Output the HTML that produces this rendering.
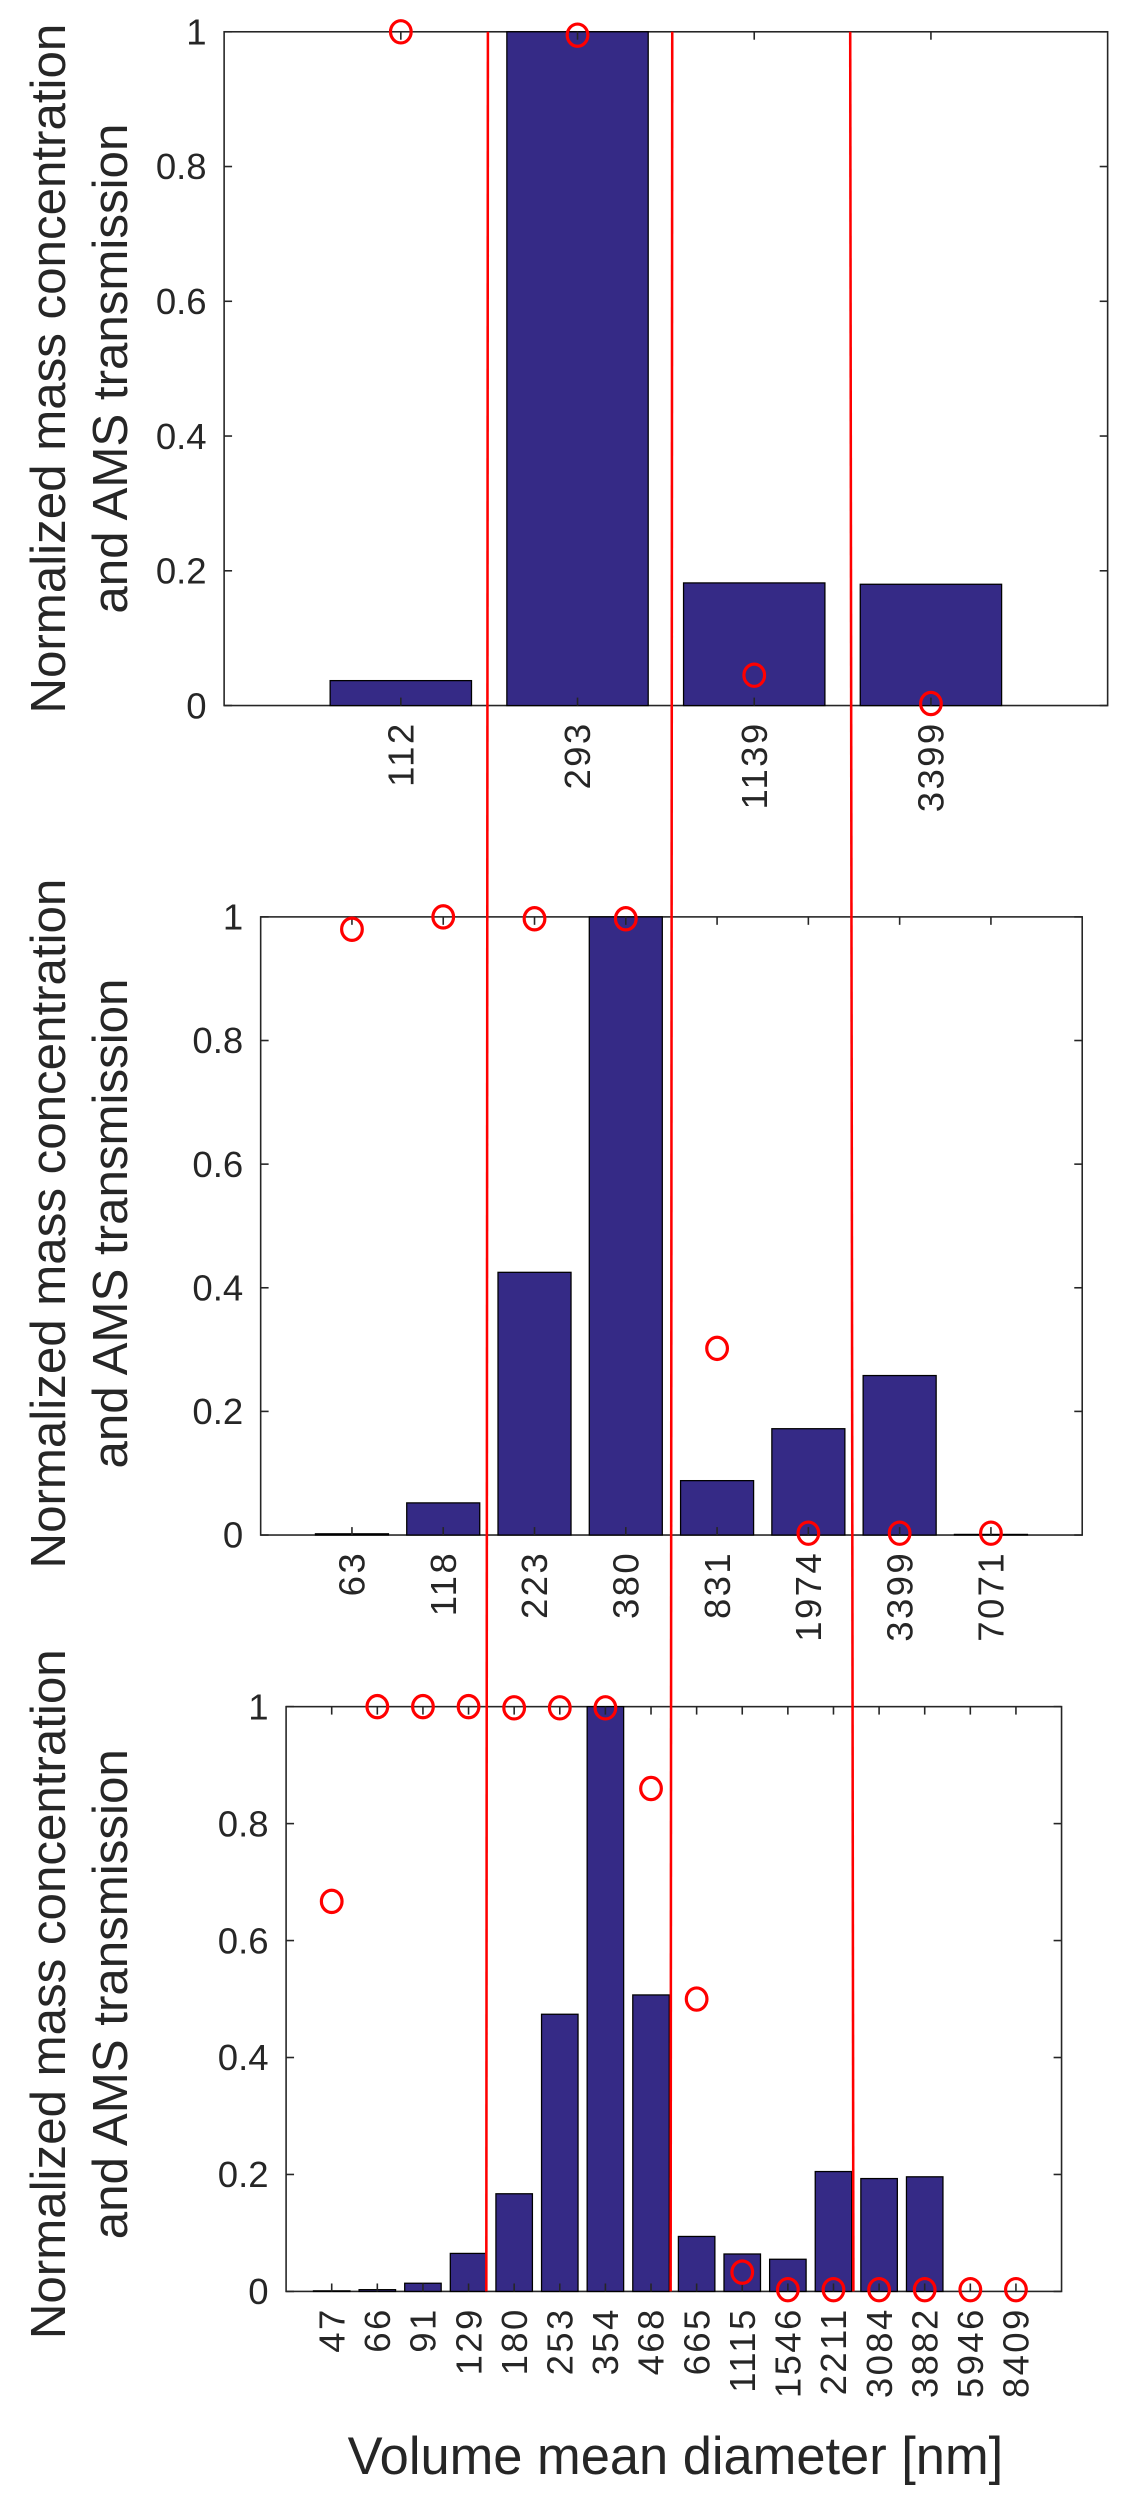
<!DOCTYPE html>
<html><head><meta charset="utf-8"><style>
html,body{margin:0;padding:0;background:#fff}
svg{display:block}
text{font-family:"Liberation Sans",sans-serif;fill:#262626}
</style></head><body>
<svg id="fig" width="1122" height="2498" viewBox="0 0 706 1572" xmlns="http://www.w3.org/2000/svg"></svg>
<script>
const cats1=["112","293","1139","3399"];
const bars1=[0.037,1,0.182,0.180];
const trans1=[1,0.995,0.045,0.003];
const cats2=["63","118","223","380","831","1974","3399","7071"];
const bars2=[0.002,0.052,0.425,1,0.088,0.172,0.258,0.001];
const trans2=[0.98,1,0.997,0.997,0.302,0.003,0.003,0.003];
const cats3=["47","66","91","129","180","253","354","468","665","1115","1546","2211","3084","3882","5946","8409"];
const bars3=[0.001,0.003,0.014,0.065,0.167,0.474,1,0.507,0.094,0.064,0.055,0.205,0.193,0.196,0,0];
const trans3=[0.667,1,1,1,0.998,0.998,0.998,0.86,0.50,0.033,0.003,0.003,0.003,0.003,0.003,0.003];
const yTicks=[0,0.2,0.4,0.6,0.8,1];
const yTickLabels=["0","0.2","0.4","0.6","0.8","1"];

const NS="http://www.w3.org/2000/svg";
const svg=document.getElementById('fig');
function mk(tag,attrs,parent){const e=document.createElementNS(NS,tag);for(const k in attrs)e.setAttribute(k,attrs[k]);(parent||svg).appendChild(e);return e;}

function chart(id,L,R,T,B,cats,bars,trans,labelCy){
  const g=mk('g',{});
  
  
  const n=cats.length;
  const x=v=>L+v*(R-L)/(n+1);
  const y=v=>B-v*(B-T);
  const step=(R-L)/(n+1);
  const box=mk('rect',{x:L,y:T,width:R-L,height:B-T,fill:'none',stroke:'#262626','stroke-width':1},g);
  
  
  bars.forEach((v,i)=>{
    const r=mk('rect',{x:x(i+1)-0.4*step,y:y(v),width:0.8*step,height:B-y(v),fill:'#352a86',stroke:'#000','stroke-width':0.8},g);
    
    
  });
  yTicks.forEach((t,i)=>{
    mk('line',{x1:L,x2:L+5,y1:y(t),y2:y(t),stroke:'#262626','stroke-width':1},g);
    mk('line',{x1:R,x2:R-5,y1:y(t),y2:y(t),stroke:'#262626','stroke-width':1},g);
    const tx=mk('text',{x:L-11,y:y(t)+8,'text-anchor':'end','font-size':23},g);
    tx.textContent=yTickLabels[i];
    
    
  });
  cats.forEach((c,i)=>{
    const cx=x(i+1);
    mk('line',{x1:cx,x2:cx,y1:B,y2:B-5,stroke:'#262626','stroke-width':1},g);
    mk('line',{x1:cx,x2:cx,y1:T,y2:T+5,stroke:'#262626','stroke-width':1},g);
    const tx=mk('text',{x:0,y:0,'text-anchor':'end','font-size':23,'letter-spacing':1.5,transform:`translate(${cx+8},${B+10}) rotate(-90)`},g);
    tx.textContent=c;
    
    
  });
  trans.forEach((v,i)=>{
    const e=mk('ellipse',{cx:x(i+1),cy:y(v),rx:6.5,ry:7,fill:'none',stroke:'#ff0000','stroke-width':2},g);
    
    
  });
  const lab=mk('text',{'text-anchor':'middle','font-size':31,transform:`translate(0,${labelCy}) rotate(-90)`},g);
  
  
  const t1=mk('tspan',{x:0,y:41},lab);t1.textContent='Normalized mass concentration';
  const t2=mk('tspan',{x:0,y:80},lab);t2.textContent='and AMS transmission';
}
chart('chart-top',141,697,20,444,cats1,bars1,trans1,232);
chart('chart-middle',164,681,577,966,cats2,bars2,trans2,770);
chart('chart-bottom',180,668,1074,1442,cats3,bars3,trans3,1255);

[[307,306],[423,422],[535,537]].forEach(p=>{
  const l=mk('line',{x1:p[0],y1:20,x2:p[1],y2:1442,stroke:'#ff0000','stroke-width':1.6});
  
  
});
const xt=mk('text',{x:425,y:1557,'text-anchor':'middle','font-size':33});
xt.textContent='Volume mean diameter [nm]';


</script>
</body></html>
